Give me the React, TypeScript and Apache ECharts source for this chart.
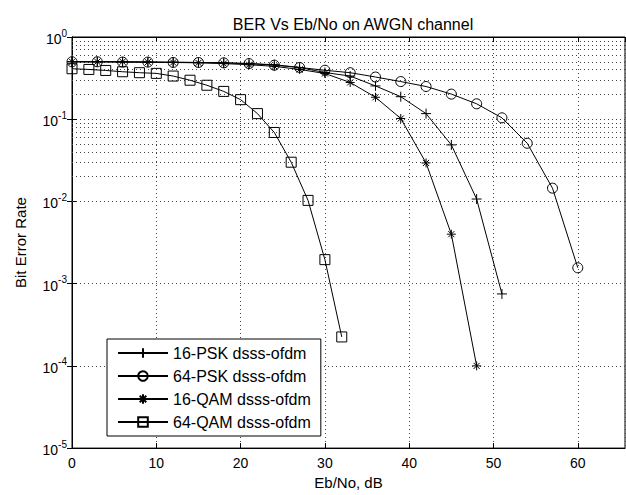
import React, { useEffect, useRef } from "react";
import * as echarts from "echarts";

// Eb/No (dB) sample points
const ebnoPSK16 = [0, 3, 6, 9, 12, 15, 18, 21, 24, 27, 30, 33, 36, 39, 42, 45, 48, 51];
const ebnoPSK64 = [0, 3, 6, 9, 12, 15, 18, 21, 24, 27, 30, 33, 36, 39, 42, 45, 48, 51, 54, 57, 60];
const ebnoQAM16 = [0, 3, 6, 9, 12, 15, 18, 21, 24, 27, 30, 33, 36, 39, 42, 45, 48];
const ebnoQAM64 = [0, 2, 4, 6, 8, 10, 12, 14, 16, 18, 20, 22, 24, 26, 28, 30, 32];

// Bit error rates
const berPSK16 = [0.5, 0.5, 0.5, 0.495, 0.495, 0.49, 0.485, 0.475, 0.46, 0.426, 0.37, 0.335, 0.254, 0.188, 0.117, 0.0487, 0.0107, 0.00075];
const berPSK64 = [0.5, 0.5, 0.495, 0.495, 0.49, 0.49, 0.485, 0.475, 0.454, 0.426, 0.394, 0.368, 0.326, 0.287, 0.25, 0.202, 0.154, 0.104, 0.051, 0.0145, 0.00156];
const berQAM16 = [0.5, 0.5, 0.5, 0.495, 0.49, 0.485, 0.475, 0.46, 0.44, 0.403, 0.36, 0.28, 0.185, 0.102, 0.0294, 0.004, 0.0001];
const berQAM64 = [0.411, 0.403, 0.392, 0.378, 0.368, 0.361, 0.335, 0.298, 0.259, 0.218, 0.173, 0.117, 0.069, 0.03, 0.0103, 0.00196, 0.000225];

const seriesNames = ["16-PSK dsss-ofdm", "64-PSK dsss-ofdm", "16-QAM dsss-ofdm", "64-QAM dsss-ofdm"];

// minor log grid lines: multipliers within each decade
const decades = [1e-5, 1e-4, 1e-3, 1e-2, 1e-1];
const minorMultipliers = [2, 3, 4, 5, 6, 7, 8, 9];

const plusSymbol = "path://M0,5L10,5M5,0L5,10";
const starSymbol = "path://M0,5L10,5M5,0L5,10M1.6,1.6L8.4,8.4M1.6,8.4L8.4,1.6";

const FONT = "Liberation Sans, Arial, sans-serif";

export default function App() {
  const ref = useRef<HTMLDivElement>(null);

  useEffect(() => {
    if (!ref.current) return;
    const chart = echarts.init(ref.current, undefined, { renderer: "svg" });

    const zip = (xs: number[], ys: number[]) => xs.map((x, i) => [x, ys[i]]);
    const minorValues: number[] = [];
    decades.forEach((d) => minorMultipliers.forEach((m) => minorValues.push(m * d)));

    const dotted = { type: [1, 3] as any, color: "#444", width: 1 };
    const xMax = 65.6;

    const baseSeries = (name: string, data: number[][], symbol: string, size: number) => ({
      name,
      type: "line",
      data,
      symbol,
      symbolSize: size,
      showAllSymbol: true,
      lineStyle: { color: "#000", width: 1 },
      itemStyle: { color: "transparent", borderColor: "#000", borderWidth: 1 },
      emphasis: { disabled: true },
      silent: true,
      z: 5,
    });

    const s0: any = baseSeries(seriesNames[0], zip(ebnoPSK16, berPSK16), plusSymbol, 10);
    s0.markLine = {
      silent: true,
      symbol: ["none", "none"],
      label: { show: false },
      lineStyle: dotted,
      emphasis: { disabled: true },
      data: minorValues.map((v) => ({ yAxis: v })),
    };

    chart.setOption({
      animation: false,
      backgroundColor: "#fff",
      title: {
        text: "BER Vs Eb/No on AWGN channel",
        left: 348,
        top: 11,
        textAlign: "center",
        textStyle: { fontFamily: FONT, fontSize: 16, fontWeight: "normal", color: "#000" },
      },
      grid: {
        left: 72,
        right: 1,
        top: 37,
        bottom: 40,
        show: true,
        borderColor: "#000",
        borderWidth: 1,
        backgroundColor: "#fff",
      },
      legend: {
        orient: "vertical",
        left: 107,
        top: 339,
        padding: [6, 10, 6, 10],
        itemWidth: 50,
        itemHeight: 12,
        itemGap: 7,
        borderColor: "#000",
        borderWidth: 1,
        backgroundColor: "#fff",
        textStyle: { fontFamily: FONT, fontSize: 16, color: "#000" },
        data: seriesNames,
        selectedMode: false,
      },
      xAxis: [
        {
          type: "value",
          min: 0,
          max: xMax,
          interval: 10,
          name: "Eb/No, dB",
          nameLocation: "middle",
          nameGap: 26,
          nameTextStyle: { fontFamily: FONT, fontSize: 15, color: "#000" },
          axisLine: { show: true, lineStyle: { color: "#000" } },
          axisTick: { inside: true, length: 5, lineStyle: { color: "#000" } },
          axisLabel: { fontFamily: FONT, fontSize: 14, color: "#000", margin: 8, showMaxLabel: false },
          splitLine: { show: true, lineStyle: dotted },
        },
        {
          type: "value",
          position: "top",
          min: 0,
          max: xMax,
          interval: 10,
          axisLine: { show: true, lineStyle: { color: "#000" } },
          axisTick: { inside: true, length: 5, lineStyle: { color: "#000" } },
          axisLabel: { show: false },
          splitLine: { show: false },
        },
      ],
      yAxis: [
        {
          type: "log",
          logBase: 10,
          min: 1e-5,
          max: 1,
          name: "Bit Error Rate",
          nameLocation: "middle",
          nameGap: 44,
          nameTextStyle: { fontFamily: FONT, fontSize: 15, color: "#000" },
          axisLine: { show: true, lineStyle: { color: "#000" } },
          axisTick: { inside: true, length: 5, lineStyle: { color: "#000" } },
          axisLabel: {
            margin: 5,
            color: "#000",
            formatter: (v: number) => "{b|10}{e|" + Math.round(Math.log10(v)) + "}",
            rich: {
              b: { fontFamily: FONT, fontSize: 14, color: "#000", verticalAlign: "bottom" },
              e: { fontFamily: FONT, fontSize: 10, color: "#000", verticalAlign: "bottom", padding: [0, 0, 8, 0] },
            },
          },
          splitLine: { show: true, lineStyle: dotted },
        },
        {
          type: "log",
          logBase: 10,
          min: 1e-5,
          max: 1,
          position: "right",
          axisLine: { show: true, lineStyle: { color: "#000" } },
          axisTick: { inside: true, length: 5, lineStyle: { color: "#000" } },
          axisLabel: { show: false },
          splitLine: { show: false },
        },
      ],
      series: [
        s0,
        baseSeries(seriesNames[1], zip(ebnoPSK64, berPSK64), "circle", 10),
        baseSeries(seriesNames[2], zip(ebnoQAM16, berQAM16), starSymbol, 9),
        baseSeries(seriesNames[3], zip(ebnoQAM64, berQAM64), "rect", 10),
      ],
    });

    return () => chart.dispose();
  }, []);

  return (
    <div
      ref={ref}
      style={{ position: "absolute", left: 0, top: 0, width: 626, height: 495, background: "#fff" }}
    />
  );
}
